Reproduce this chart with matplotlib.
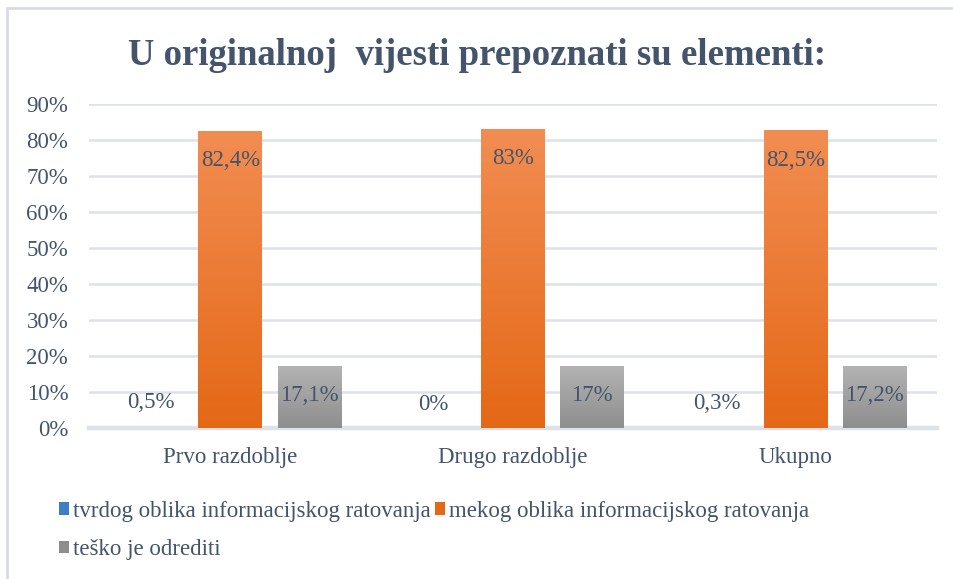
import numpy as np
import matplotlib
matplotlib.use("Agg")
import matplotlib.pyplot as plt
from matplotlib.colors import LinearSegmentedColormap
from matplotlib.patches import Rectangle

categories = ["Prvo razdoblje", "Drugo razdoblje", "Ukupno"]
series_names = ["tvrdog oblika informacijskog ratovanja",
                "mekog oblika informacijskog ratovanja",
                "teško je odrediti"]
tvrdog = [0.5, 0.0, 0.3]
mekog = [82.4, 83.0, 82.5]
tesko = [17.1, 17.0, 17.2]
yticks = [0, 10, 20, 30, 40, 50, 60, 70, 80, 90]

TEXT = "#44546A"
GRID = "#DDE1E8"
# (top colour, bottom colour) of each gradient fill
grads = [("#5DA0E0", "#3B7FC4"), ("#F28D52", "#E46816"), ("#B3B3B3", "#8E8E8E")]

plt.rcParams["font.family"] = ["Liberation Serif", "DejaVu Serif"]

fig = plt.figure(figsize=(9.54, 5.79), dpi=100)
ax = fig.add_axes([0.0933, 0.2608, 0.8887, 0.5596])

# light frame round the chart area (runs off the right / bottom edge)
fig.patches.append(Rectangle((7 / 954, -0.1), 1.2, 1 - 8 / 579 + 0.1,
                             transform=fig.transFigure, fill=False,
                             edgecolor="#D9DCE3", lw=2))

x = np.arange(len(categories))
w = 0.226
pitch = 0.28
series = [tvrdog, mekog, tesko]

for i, vals in enumerate(series):
    cmap = LinearSegmentedColormap.from_list(f"g{i}", [grads[i][1], grads[i][0]])
    xs = x + (i - 1) * pitch
    # the tiny blue bars sit under the 0% gridline, as in the original
    bars = ax.bar(xs, vals, w, color=grads[i][1], zorder=0.8 if i == 0 else 2,
                  label=series_names[i])
    for b in bars:
        h = b.get_height()
        if h <= 0 or i == 0:
            continue
        x0 = b.get_x()
        ax.imshow(np.linspace(0, 1, 256).reshape(-1, 1), cmap=cmap, origin="lower",
                  extent=(x0, x0 + w, 0, h), aspect="auto", zorder=3)
    for xi, v in zip(xs, vals):
        lab = f"{v:g}".replace(".", ",") + "%"
        off = 17 if i == 0 else -21
        ax.annotate(lab, (xi, v), xytext=(0, off), textcoords="offset points",
                    ha="center", va="center", fontsize=16.5, color=TEXT, zorder=4)

ax.set_xlim(-0.5, 2.5)
ax.set_ylim(0, 90)
ax.set_yticks(yticks)
ax.set_yticklabels([f"{t}%" for t in yticks])
ax.set_xticks(x)
ax.set_xticklabels(categories)
ax.tick_params(axis="both", length=0, labelsize=16.5, labelcolor=TEXT)
ax.tick_params(axis="x", pad=14)
ax.tick_params(axis="y", pad=15)
ax.grid(axis="y", color=GRID, lw=1.8, zorder=1)
ax.axhline(0, color=GRID, lw=3.2, zorder=1, clip_on=False)
for s in ax.spines.values():
    s.set_visible(False)

fig.text(0.5, 0.905, "U originalnoj  vijesti prepoznati su elementi:", ha="center",
         va="center", fontsize=26.5, fontweight="bold", color=TEXT)

h, l = ax.get_legend_handles_labels()
order = [0, 2, 1]
fig.legend([h[k] for k in order], [l[k] for k in order], ncol=2,
           loc="upper left", bbox_to_anchor=(0.052, 0.151), frameon=False,
           fontsize=16.5, labelcolor=TEXT, handlelength=0.45, handleheight=0.45,
           handletextpad=0.15, columnspacing=0.2, labelspacing=0.75, borderaxespad=0)

fig.savefig("out.png", dpi=100, facecolor="white")
